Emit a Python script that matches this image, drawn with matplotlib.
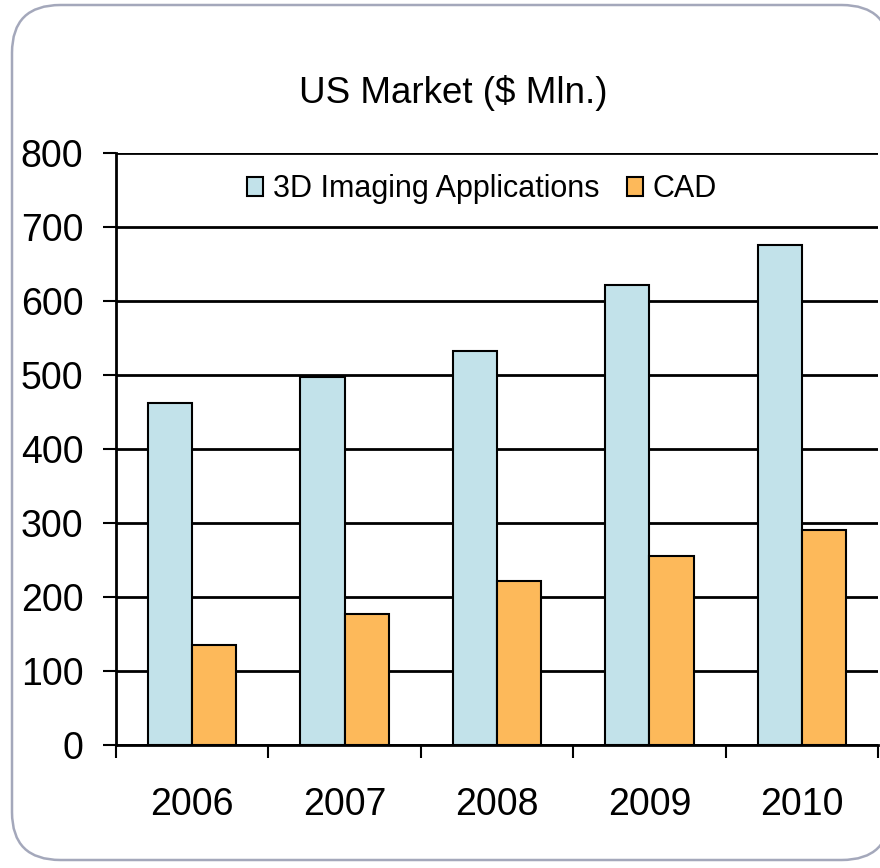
import matplotlib
matplotlib.use("Agg")
from matplotlib import pyplot as plt
from matplotlib.patches import FancyBboxPatch
import numpy as np

years = ["2006", "2007", "2008", "2009", "2010"]
imaging = [462, 497, 532, 621, 676]
cad = [135, 177, 221, 256, 291]

plt.rcParams['font.family'] = ['Liberation Sans', 'DejaVu Sans']

fig = plt.figure(figsize=(8.8, 8.68), dpi=100)

# rounded frame round the chart
frame = FancyBboxPatch((12 / 880, 8 / 868), 878 / 880, 855 / 868,
                       boxstyle="round,pad=0,rounding_size=0.055",
                       transform=fig.transFigure, facecolor="white",
                       edgecolor="#a4a8bb", linewidth=1.8, zorder=-5)
fig.patches.append(frame)

ax = fig.add_axes([116 / 880, 123 / 868, 762 / 880, 592 / 868])
ax.set_zorder(2)
ax.set_facecolor("none")

x = np.arange(len(years))
w = 0.29
ax.bar(x - w / 2, imaging, w, color="#c2e2ea", edgecolor="black", linewidth=1.5,
       label="3D Imaging Applications", zorder=3)
ax.bar(x + w / 2, cad, w, color="#fdb95a", edgecolor="black", linewidth=1.5,
       label="CAD", zorder=3)

ax.set_xlim(-0.5, len(years) - 0.5)
ax.set_ylim(0, 800)
ax.set_yticks(range(0, 801, 100))
ax.yaxis.grid(True, color="black", linewidth=2, zorder=0)
ax.set_axisbelow(True)
ax.set_xticks(x)
ax.set_xticklabels(years)
ax.set_xticks(np.arange(-0.5, len(years)), minor=True)
ax.tick_params(axis="x", which="major", length=0, pad=30, labelsize=27)
ax.tick_params(axis="x", which="minor", length=9, width=1.5, direction="out")
ax.tick_params(axis="y", length=9.5, width=1.5, labelsize=27, pad=14)
for s in ["top", "right"]:
    ax.spines[s].set_visible(False)
ax.spines["left"].set_linewidth(2)
ax.spines["bottom"].set_linewidth(2)

ax.legend(loc="center", bbox_to_anchor=(0.48, 0.939), ncol=2, frameon=False,
          fontsize=22, handlelength=0.55, handleheight=0.55, handletextpad=0.3,
          columnspacing=0.9, borderpad=0, borderaxespad=0)

fig.text(453 / 880, 1 - 93 / 868, "US Market ($ Mln.)", ha="center", va="center",
         fontsize=26.5)

fig.savefig("out.png", dpi=100)
